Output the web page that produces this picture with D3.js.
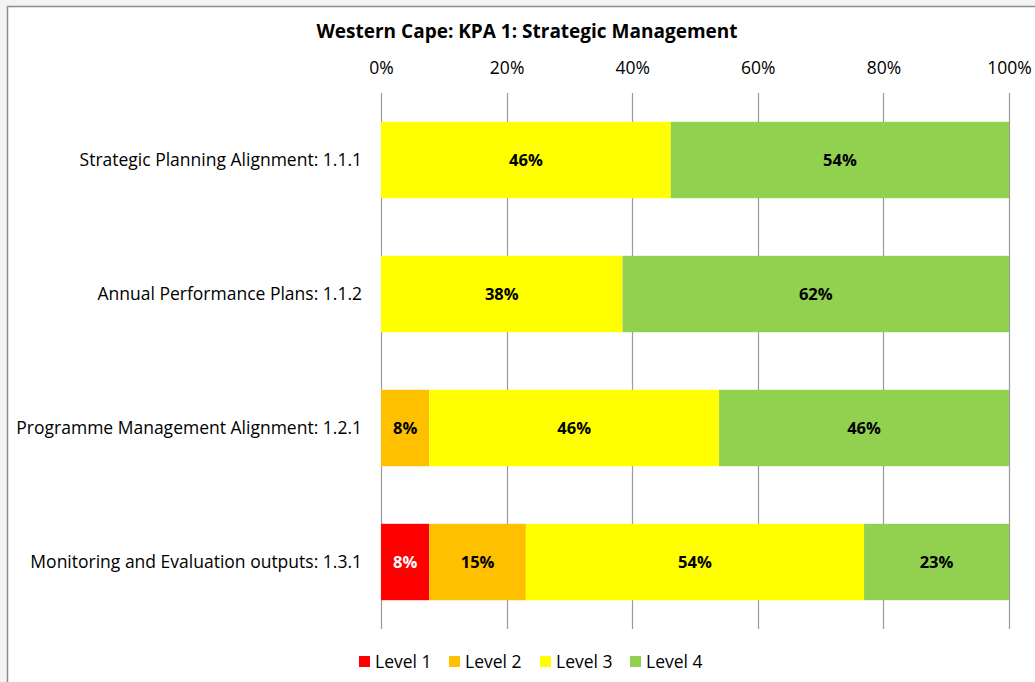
<!DOCTYPE html>
<html>
<head>
<meta charset="utf-8">
<script src="https://cdn.jsdelivr.net/npm/d3@7"></script>
<style>
  html, body { margin: 0; padding: 0; background: #f3f3f3; }
  svg { display: block; }
  text { font-family: "Open Sans", Lato, sans-serif; }
</style>
</head>
<body>
<svg id="chart" width="1035" height="682"></svg>
<script>
// Share of departments at each maturity level, per standard (percent)
const categories = [
  "Strategic Planning Alignment: 1.1.1",
  "Annual Performance Plans: 1.1.2",
  "Programme Management Alignment: 1.2.1",
  "Monitoring and Evaluation outputs: 1.3.1"
];
const seriesNames = ["Level 1", "Level 2", "Level 3", "Level 4"];
const level1 = [0, 0, 0, 7.69];
const level2 = [0, 0, 7.69, 15.38];
const level3 = [46.15, 38.46, 46.15, 53.85];
const level4 = [53.85, 61.54, 46.15, 23.08];
const tickValues = [0, 20, 40, 60, 80, 100];
const colors = ["#FF0000", "#FFC000", "#FFFF00", "#92D050"];
const labelColors = ["#FFFFFF", "#000000", "#000000", "#000000"];

const svg = d3.select("#chart");

// chart frame
svg.append("rect")
  .attr("x", 7.5).attr("y", 6.5)
  .attr("width", 1040).attr("height", 690)
  .attr("fill", "#ffffff")
  .attr("stroke", "#8c8c8c").attr("stroke-width", 1.5);

const plot = { left: 381, right: 1009, top: 93, bottom: 629 };

const x = d3.scaleLinear().domain([0, 100]).range([plot.left, plot.right]);
const y = d3.scaleBand().domain(categories)
  .range([plot.top, plot.bottom]).paddingInner(0.43).paddingOuter(0.215);

// title
svg.append("text")
  .attr("x", 527).attr("y", 38)
  .attr("text-anchor", "middle")
  .attr("font-size", 19).attr("font-weight", "bold")
  .attr("fill", "#000")
  .text("Western Cape: KPA 1: Strategic Management");

// gridlines
svg.append("g")
  .selectAll("line")
  .data(tickValues)
  .join("line")
  .attr("x1", d => Math.round(x(d)) + 0.5)
  .attr("x2", d => Math.round(x(d)) + 0.5)
  .attr("y1", plot.top).attr("y2", plot.bottom)
  .attr("stroke", "#9a9a9a").attr("stroke-width", 1.2);

// top axis labels
const axis = d3.axisTop(x).tickValues(tickValues).tickFormat(d => d + "%").tickSize(0).tickPadding(0);
const axisG = svg.append("g").attr("transform", `translate(0, 74)`).call(axis);
axisG.select(".domain").remove();
axisG.selectAll("text")
  .attr("font-size", 17.5).attr("fill", "#000")
  .attr("font-family", "'Open Sans', Lato, sans-serif");

// category labels
svg.append("g")
  .selectAll("text")
  .data(categories)
  .join("text")
  .attr("x", 362)
  .attr("y", d => y(d) + y.bandwidth() / 2)
  .attr("dy", "0.35em")
  .attr("text-anchor", "end")
  .attr("font-size", 17.5).attr("fill", "#000")
  .text(d => d);

// stacked bars
const rows = categories.map((c, i) => ({
  category: c,
  "Level 1": level1[i], "Level 2": level2[i], "Level 3": level3[i], "Level 4": level4[i]
}));
const stacked = d3.stack().keys(seriesNames)(rows);

const layers = svg.append("g")
  .selectAll("g")
  .data(stacked)
  .join("g")
  .attr("fill", (d, i) => colors[i]);

layers.selectAll("rect")
  .data(d => d)
  .join("rect")
  .attr("x", d => x(d[0]))
  .attr("y", d => y(d.data.category))
  .attr("width", d => x(d[1]) - x(d[0]))
  .attr("height", y.bandwidth());

// value labels
layers.each(function (layer, li) {
  d3.select(this).selectAll("text")
    .data(layer.filter(d => d[1] - d[0] > 0))
    .join("text")
    .attr("x", d => (x(d[0]) + x(d[1])) / 2)
    .attr("y", d => y(d.data.category) + y.bandwidth() / 2)
    .attr("dy", "0.35em")
    .attr("text-anchor", "middle")
    .attr("font-size", 16.5).attr("font-weight", "bold")
    .attr("fill", labelColors[li])
    .text(d => Math.round(d[1] - d[0]) + "%");
});

// legend
const legendX = [359, 449, 540, 630];
const legend = svg.append("g")
  .selectAll("g")
  .data(seriesNames)
  .join("g")
  .attr("transform", (d, i) => `translate(${legendX[i]}, 656)`);
legend.append("rect")
  .attr("width", 11).attr("height", 11)
  .attr("fill", (d, i) => colors[i]);
legend.append("text")
  .attr("x", 16).attr("y", 5.5)
  .attr("dy", "0.35em")
  .attr("font-size", 17.5).attr("fill", "#000")
  .text(d => d);
</script>
</body>
</html>
